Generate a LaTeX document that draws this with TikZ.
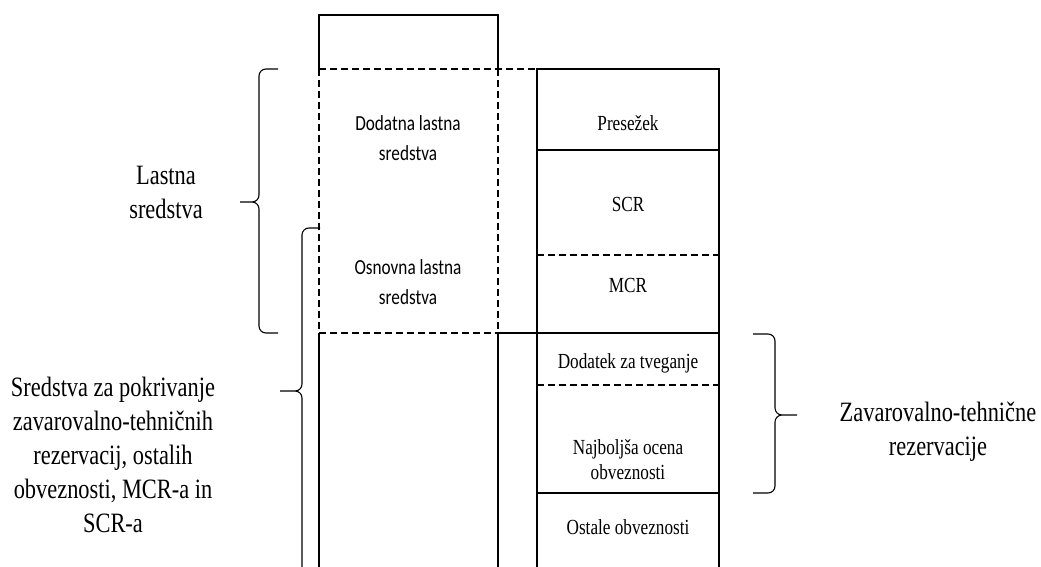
\documentclass[tikz,border=0pt]{standalone}
\usepackage{fontspec}
\setmainfont[FakeStretch=0.8]{Liberation Serif}
\newfontfamily\cellsans[FakeStretch=0.8]{Carlito}

\begin{document}
\begin{tikzpicture}[
    x=1pt, y=-1pt,
    frame/.style={line width=1.1pt},
    dashframe/.style={line width=1.1pt, dash pattern=on 7pt off 4pt},
    curly/.style={line width=1.1pt, rounded corners=7pt},
    biglabel/.style={align=center, font=\fontsize{28}{34}\selectfont},
    cell/.style={align=center, font=\fontsize{21.5}{25}\selectfont},
    cellsf/.style={align=center, font=\cellsans\fontsize{21.5}{30}\selectfont}
]
    \useasboundingbox (0,0) rectangle (1041,567);

    % Left column (assets)
    \draw[frame] (319,69) |- (498,15) -- (498,69);
    \draw[dashframe] (319,69) -- (537,69);
    \draw[dashframe] (319,69) -- (319,333);
    \draw[dashframe] (498,69) -- (498,333);
    \draw[dashframe] (319,333) -- (498,333);
    \draw[frame] (319,333) -- (319,580);
    \draw[frame] (498,333) -- (498,580);

    % Right column (liabilities)
    \draw[frame] (537,580) |- (719,69) -- (719,580);
    \draw[frame] (537,150) -- (719,150);
    \draw[dashframe] (537,255) -- (719,255);
    \draw[frame] (498,333) -- (719,333);
    \draw[dashframe] (537,385) -- (719,385);
    \draw[frame] (537,493) -- (719,493);

    % Cell texts
    \node[cellsf] (dodatna) at (408,138) {Dodatna lastna\\sredstva};
    \node[cellsf] (osnovna) at (408,282) {Osnovna lastna\\sredstva};
    \node[cell] (presezek) at (628,123) {Presežek};
    \node[cell] (scr) at (628,204) {SCR};
    \node[cell] (mcr) at (628,285) {MCR};
    \node[cell] (dodatek) at (628,363) {Dodatek za tveganje};
    \node[cell] (najboljsa) at (628,460) {Najboljša ocena\\obveznosti};
    \node[cell] (ostale) at (628,527) {Ostale obveznosti};

    % Braces
    \draw[curly] (278,69) -| (259,202) -- (240,202)
                 (278,333) -| (259,202) -- (240,202);
    \draw[curly] (320,228) -| (302,391) -- (280,391)
                 (320,575) -| (302,391) -- (280,391);
    \draw[curly] (753,334) -| (775,415) -- (797,415)
                 (753,493) -| (775,415) -- (797,415);

    % Brace labels
    \node[biglabel] (lastna) at (166,192) {Lastna\\sredstva};
    \node[biglabel] (sredstva) at (113,455) {Sredstva za pokrivanje\\zavarovalno-tehničnih\\rezervacij, ostalih\\obveznosti, MCR-a in\\SCR-a};
    \node[biglabel] (rezervacije) at (938,432) {Zavarovalno-tehnične\\rezervacije};
\end{tikzpicture}
\end{document}
